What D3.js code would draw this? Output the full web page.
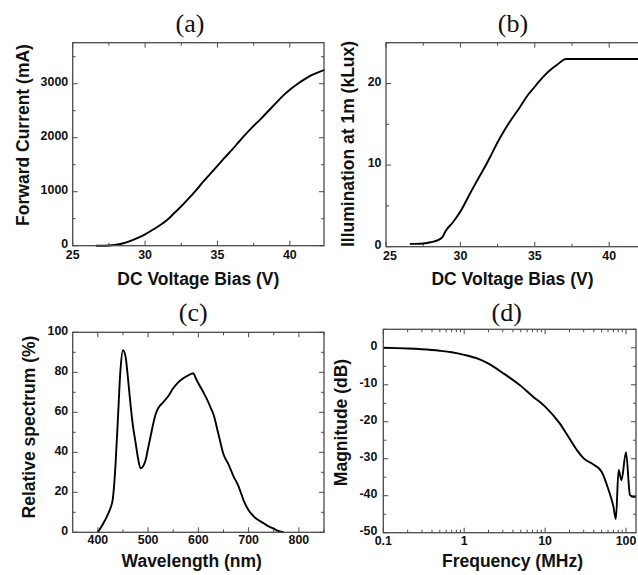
<!DOCTYPE html>
<html>
<head>
<meta charset="utf-8">
<script src="https://cdn.jsdelivr.net/npm/d3@7"></script>
<style>
  html, body { margin: 0; padding: 0; background: #fff; }
  svg { display: block; }
</style>
</head>
<body>
<svg id="chart" width="638" height="575"></svg>
<script>
// (a) forward current vs DC bias
const biasA = [26.6, 27, 27.5, 28, 28.5, 29, 29.5, 30, 30.5, 31, 31.5, 32, 32.5, 33, 33.5, 34, 34.5, 35, 35.5, 36, 36.5, 37, 37.5, 38, 38.5, 39, 39.5, 40, 40.5, 41, 41.5, 42, 42.4];
const currentA = [0, 0, 5, 20, 45, 90, 145, 210, 290, 375, 470, 600, 730, 870, 1020, 1180, 1330, 1480, 1630, 1775, 1930, 2080, 2220, 2350, 2490, 2630, 2770, 2890, 2990, 3080, 3160, 3215, 3255];

// (b) illumination at 1 m vs DC bias
const biasB = [26.6, 27, 27.5, 28, 28.5, 28.8, 29, 29.5, 30, 30.5, 31, 31.5, 32, 32.5, 33, 33.5, 34, 34.5, 35, 35.5, 36, 36.5, 37.1, 42.4];
const illumB = [0.35, 0.35, 0.4, 0.55, 0.8, 1.2, 1.9, 3.0, 4.3, 6.0, 7.7, 9.3, 11.0, 12.8, 14.4, 15.8, 17.1, 18.5, 19.6, 20.7, 21.6, 22.3, 23.0, 23.0];

// (c) relative emission spectrum
const wavelengthC = [400, 410, 420, 425, 430, 435, 440, 445, 450, 455, 460, 465, 470, 475, 480, 485, 490, 495, 500, 505, 510, 515, 520, 530, 540, 550, 560, 570, 580, 590, 595, 600, 610, 620, 625, 630, 640, 650, 660, 670, 680, 690, 700, 710, 720, 730, 740, 750, 760, 770];
const spectrumC = [0, 4, 9, 12, 17, 33, 57, 81, 91, 88, 77, 64, 53, 45, 37, 32, 33, 36, 42, 48, 54, 59, 62, 65, 68, 72, 75, 77, 78.5, 79.5, 77, 74.5, 70, 65, 62, 59, 49, 39, 34, 28, 23, 16, 11, 8, 6, 4.5, 3, 1.8, 0.6, 0];

// (d) frequency response
const freqD = [0.1, 0.15, 0.2, 0.3, 0.5, 0.7, 1, 1.5, 2, 3, 5, 7, 10, 15, 20, 25, 30, 40, 50, 60, 70, 75, 81, 88, 100, 112, 122, 133];
const magD = [0, -0.1, -0.2, -0.4, -0.8, -1.2, -1.9, -3.0, -4.3, -6.8, -10.3, -13.1, -15.9, -20.3, -24.5, -27.8, -29.9, -31.6, -33.5, -38, -43, -46.3, -33, -35.8, -28.2, -39.8, -40.3, -40.3];

// axis tick values and labels
const voltTicks = [25, 30, 35, 40];
const currentTicks = [0, 1000, 2000, 3000];
const illumTicks = [0, 10, 20];
const wavelengthTicks = [400, 500, 600, 700, 800];
const spectrumTicks = [0, 20, 40, 60, 80, 100];
const freqTicks = [0.1, 1, 10, 100];
const freqTickLabels = ["0.1", "1", "10", "100"];
const magTicks = [0, -10, -20, -30, -40, -50];

const titles = ["(a)", "(b)", "(c)", "(d)"];
const xTitles = ["DC Voltage Bias (V)", "DC Voltage Bias (V)", "Wavelength (nm)", "Frequency (MHz)"];
const yTitles = ["Forward Current (mA)", "Illumination at 1m (kLux)", "Relative spectrum (%)", "Magnitude (dB)"];

const svg = d3.select("#chart");
const FRAME = "#4a4a4a";
const INK = "#111";
const SANS = "'Liberation Sans', Arial, sans-serif";

function range(a, b, step) {
  const out = [];
  for (let v = a; v <= b + 1e-9; v += step) out.push(+v.toFixed(6));
  return out;
}

function panel(cfg) {
  const g = svg.append("g");
  const x = cfg.x, y = cfg.y;
  const [x0, x1] = x.range();
  const [y1, y0] = y.range();

  // inward ticks, mirrored on the opposite side of the frame
  const xtick = (vals, len) => {
    vals.forEach(v => {
      const px = x(v);
      g.append("line").attr("x1", px).attr("x2", px).attr("y1", y1).attr("y2", y1 - len)
        .attr("stroke", FRAME).attr("stroke-width", 1);
      g.append("line").attr("x1", px).attr("x2", px).attr("y1", y0).attr("y2", y0 + len)
        .attr("stroke", FRAME).attr("stroke-width", 1);
    });
  };
  const ytick = (vals, len) => {
    vals.forEach(v => {
      const py = y(v);
      g.append("line").attr("x1", x0).attr("x2", x0 + len).attr("y1", py).attr("y2", py)
        .attr("stroke", FRAME).attr("stroke-width", 1);
      g.append("line").attr("x1", x1).attr("x2", x1 - len).attr("y1", py).attr("y2", py)
        .attr("stroke", FRAME).attr("stroke-width", 1);
    });
  };
  xtick(cfg.xMinor, 3);
  xtick(cfg.xTicks, 5);
  ytick(cfg.yMinor, 3);
  ytick(cfg.yTicks, 5);

  // curve
  const line = d3.line().x(d => x(d[0])).y(d => y(d[1])).curve(d3.curveMonotoneX);
  g.append("path")
    .datum(d3.zip(cfg.xs, cfg.ys))
    .attr("d", line)
    .attr("fill", "none")
    .attr("stroke", "#000")
    .attr("stroke-width", 1.9)
    .attr("stroke-linejoin", "round");

  // frame
  g.append("rect").attr("x", x0).attr("y", y0).attr("width", x1 - x0).attr("height", y1 - y0)
    .attr("fill", "none").attr("stroke", FRAME).attr("stroke-width", 1.3);

  // tick labels (the corner label can be nudged clear of the y labels)
  cfg.xTicks.forEach((v, i) => {
    const nudge = i === 0 ? (cfg.firstXNudge || 0) : 0;
    g.append("text").attr("x", x(v) + nudge).attr("y", y1 + cfg.xLabelOff)
      .attr("text-anchor", "middle")
      .attr("font-family", SANS)
      .attr("font-weight", "bold").attr("font-size", 12.4).attr("fill", INK)
      .text(cfg.xFmt ? cfg.xFmt[i] : v);
  });
  cfg.yTicks.forEach(v => {
    g.append("text").attr("x", x0 - cfg.yLabelGap).attr("y", y(v) - 2).attr("dy", "0.35em")
      .attr("text-anchor", "end")
      .attr("font-family", SANS)
      .attr("font-weight", "bold").attr("font-size", 12.4).attr("fill", INK)
      .text(v);
  });

  // axis titles
  g.append("text").attr("x", cfg.xtPos[0]).attr("y", cfg.xtPos[1])
    .attr("text-anchor", "middle")
    .attr("font-family", SANS)
    .attr("font-weight", "bold").attr("font-size", 17.5).attr("fill", INK)
    .text(cfg.xTitle);
  g.append("text")
    .attr("transform", `translate(${cfg.ytPos[0]},${cfg.ytPos[1]}) rotate(-90)`)
    .attr("text-anchor", "middle")
    .attr("font-family", SANS)
    .attr("font-weight", "bold").attr("font-size", 17.5).attr("fill", INK)
    .text(cfg.yTitle);

  // panel letter
  g.append("text").attr("x", cfg.titlePos[0]).attr("y", cfg.titlePos[1])
    .attr("text-anchor", "middle")
    .attr("font-family", "'Liberation Serif', 'Times New Roman', serif")
    .attr("font-size", 26).attr("fill", INK)
    .text(cfg.title);
}

// (a)
panel({
  x: d3.scaleLinear().domain([25, 42.36]).range([72.7, 324]),
  y: d3.scaleLinear().domain([0, 3760]).range([245.7, 42.7]),
  xs: biasA, ys: currentA,
  xTicks: voltTicks, xMinor: range(27.5, 42.36, 5),
  yTicks: currentTicks, yMinor: range(500, 3760, 1000),
  xLabelOff: 13, yLabelGap: 4.5,
  xTitle: xTitles[0], yTitle: yTitles[0],
  xtPos: [198.3, 285], ytPos: [29, 135],
  title: titles[0], titlePos: [190, 32]
});

// (b)
panel({
  x: d3.scaleLinear().domain([25, 42.36]).range([386, 644.3]),
  y: d3.scaleLinear().domain([0, 25]).range([246.7, 42.7]),
  xs: biasB, ys: illumB,
  xTicks: voltTicks, xMinor: range(27.5, 42.36, 5),
  yTicks: illumTicks, yMinor: range(5, 25, 10),
  xLabelOff: 13.3, yLabelGap: 4.5, firstXNudge: 4,
  xTitle: xTitles[1], yTitle: yTitles[1],
  xtPos: [512.5, 285], ytPos: [354, 144],
  title: titles[1], titlePos: [513, 32]
});

// (c)
panel({
  x: d3.scaleLinear().domain([350, 850]).range([72.7, 324]),
  y: d3.scaleLinear().domain([0, 100]).range([532.3, 332.3]),
  xs: wavelengthC, ys: spectrumC,
  xTicks: wavelengthTicks, xMinor: range(450, 850, 100),
  yTicks: spectrumTicks, yMinor: range(10, 100, 20),
  xLabelOff: 12, yLabelGap: 4.5,
  xTitle: xTitles[2], yTitle: yTitles[2],
  xtPos: [191.7, 567], ytPos: [35, 427],
  title: titles[2], titlePos: [193.3, 321]
});

// (d)
const logMinor = [];
freqTicks.forEach(dec => { for (let k = 2; k <= 9; k++) if (dec * k <= 133) logMinor.push(dec * k); });
panel({
  x: d3.scaleLog().domain([0.1, 133]).range([383.3, 636]),
  y: d3.scaleLinear().domain([-50, 5]).range([532.7, 329.3]),
  xs: freqD, ys: magD,
  xTicks: freqTicks, xFmt: freqTickLabels, xMinor: logMinor,
  yTicks: magTicks, yMinor: range(-45, 5, 10),
  xLabelOff: 12, yLabelGap: 6,
  xTitle: xTitles[3], yTitle: yTitles[3],
  xtPos: [512.5, 567], ytPos: [347, 422.5],
  title: titles[3], titlePos: [506.7, 321]
});
</script>
</body>
</html>
